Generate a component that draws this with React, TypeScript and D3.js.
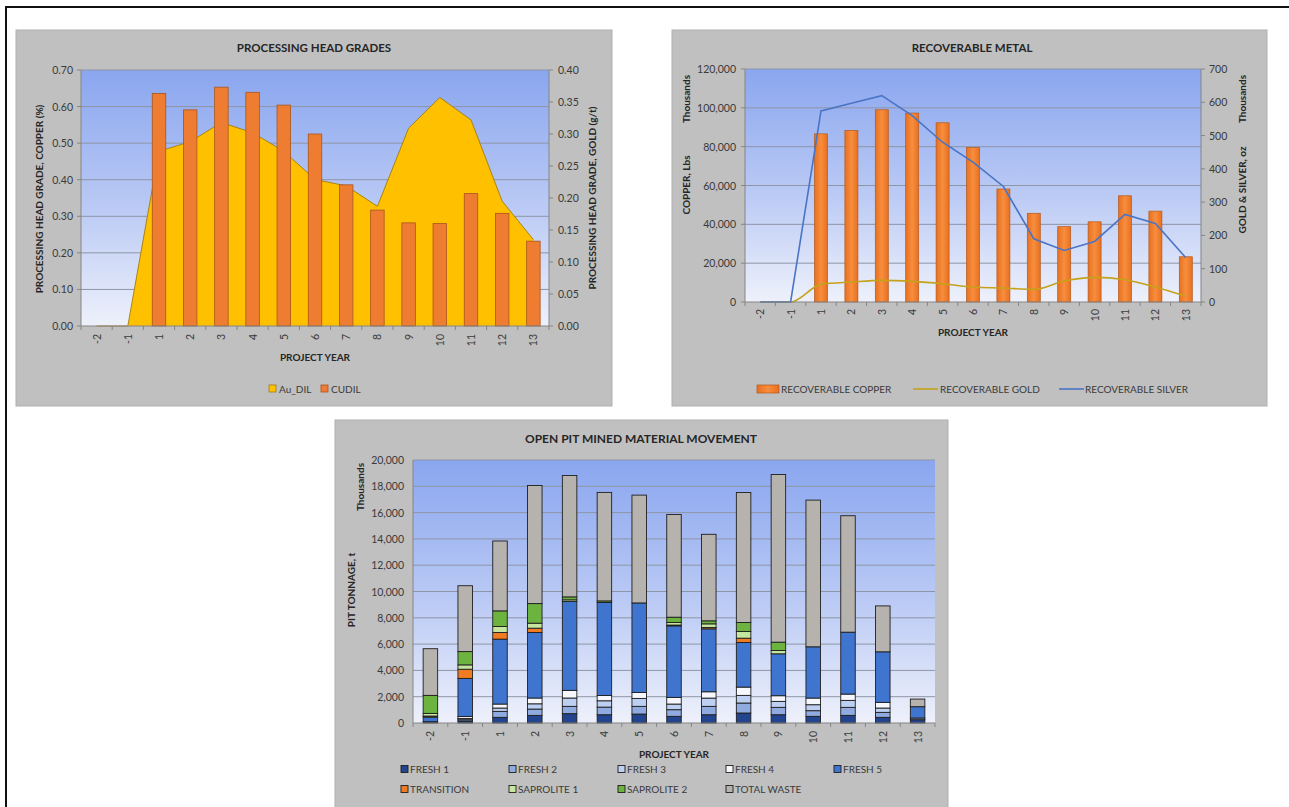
import React from 'react';
import * as d3 from 'd3';

const YEARS = ['-2', '-1', '1', '2', '3', '4', '5', '6', '7', '8', '9', '10', '11', '12', '13'];

// Panel 1: processing head grades
const CUDIL = [0, 0, 0.636, 0.591, 0.653, 0.639, 0.604, 0.525, 0.386, 0.317, 0.282, 0.28, 0.362, 0.308, 0.232];
const AU_DIL = [0, 0, 0.273, 0.288, 0.318, 0.302, 0.273, 0.229, 0.219, 0.187, 0.309, 0.357, 0.322, 0.195, 0.135];
const P1_LEFT_TICKS = [0, 0.1, 0.2, 0.3, 0.4, 0.5, 0.6, 0.7];
const P1_RIGHT_TICKS = [0, 0.05, 0.1, 0.15, 0.2, 0.25, 0.3, 0.35, 0.4];

// Panel 2: recoverable metal (thousands)
const COPPER = [0, 0, 86600, 88300, 99000, 97300, 92300, 79500, 58200, 45700, 38800, 41300, 54700, 46800, 23300];
const GOLD = [0, 0, 53, 60, 65, 62, 55, 45, 42, 38, 63, 74, 67, 45, 17];
const SILVER = [0, 0, 574, 597, 620, 560, 480, 420, 347, 190, 155, 182, 263, 236, 133];
const P2_LEFT_TICKS = [0, 20000, 40000, 60000, 80000, 100000, 120000];
const P2_RIGHT_TICKS = [0, 100, 200, 300, 400, 500, 600, 700];

// Panel 3: open pit mined material movement (thousands t)
const FRESH1 = [100, 150, 430, 580, 710, 630, 680, 506, 630, 760, 630, 506, 580, 430, 250];
const FRESH2 = [0, 100, 455, 480, 555, 580, 585, 506, 635, 760, 560, 430, 610, 380, 130];
const FRESH3 = [0, 100, 253, 400, 635, 480, 605, 430, 630, 580, 455, 455, 530, 328, 0];
const FRESH4 = [0, 150, 304, 440, 580, 405, 455, 506, 480, 630, 430, 507, 480, 431, 0];
const FRESH5 = [350, 2890, 4934, 4980, 6755, 7065, 6805, 5440, 4785, 3390, 3187, 3896, 4707, 3845, 860];
const TRANSITION = [80, 700, 506, 330, 0, 0, 0, 60, 100, 330, 0, 0, 0, 0, 0];
const SAPROLITE1 = [200, 330, 455, 380, 130, 0, 0, 200, 280, 510, 253, 0, 0, 0, 0];
const SAPROLITE2 = [1370, 1010, 1190, 1490, 225, 125, 0, 397, 230, 680, 633, 0, 0, 0, 0];
const TOTAL_WASTE = [3550, 5010, 5314, 8980, 9230, 8250, 8200, 7815, 6580, 9890, 12750, 11156, 8855, 3491, 580];
const P3_TICKS = [0, 2000, 4000, 6000, 8000, 10000, 12000, 14000, 16000, 18000, 20000];

const P3_KEYS = ['FRESH 1', 'FRESH 2', 'FRESH 3', 'FRESH 4', 'FRESH 5', 'TRANSITION', 'SAPROLITE 1', 'SAPROLITE 2', 'TOTAL WASTE'];
const P3_SERIES = [FRESH1, FRESH2, FRESH3, FRESH4, FRESH5, TRANSITION, SAPROLITE1, SAPROLITE2, TOTAL_WASTE];
const P3_COLORS = ['#23458f', '#8fabdf', '#bdd0f1', '#f5f7fc', '#3f75cf', '#ef7b22', '#c6e59e', '#6db33f', '#b6b2ad'];

const FONT = "Lato, 'Open Sans', sans-serif";
const TXT = '#3a3a3a';
const PANEL = '#c0c0c0';
const GRID = '#8e95a6';
const AXIS = '#858585';

function PlotBg({ id, x0, x1, y0, y1 }: any) {
  return <rect x={x0} y={y0} width={x1 - x0} height={y1 - y0} fill={`url(#${id})`} />;
}

function XCats({ x, y, baseline, x0, x1 }: any) {
  const bw = x.bandwidth();
  return (
    <g>
      <line x1={x0} x2={x1} y1={baseline} y2={baseline} stroke={AXIS} strokeWidth={1} />
      {YEARS.map((c, i) => (
        <line key={'t' + i} x1={x(c)} x2={x(c)} y1={baseline} y2={baseline + 4} stroke={AXIS} />
      ))}
      <line x1={x1} x2={x1} y1={baseline} y2={baseline + 4} stroke={AXIS} />
      {YEARS.map((c) => (
        <text key={c} transform={`translate(${x(c) + bw / 2},${y}) rotate(-90)`} textAnchor="end"
          dominantBaseline="central" fontSize={10.5} fill={TXT} fontFamily={FONT}>{c}</text>
      ))}
    </g>
  );
}

function Panel1() {
  const x0 = 81, x1 = 549, y0 = 70, y1 = 326;
  const x = d3.scaleBand().domain(YEARS).range([x0, x1]);
  const yL = d3.scaleLinear().domain([0, 0.7]).range([y1, y0]);
  const yR = d3.scaleLinear().domain([0, 0.4]).range([y1, y0]);
  const bw = x.bandwidth();
  const area = d3.area<number>().x((d, i) => (x(YEARS[i]) as number) + bw / 2).y0(y1).y1((d) => yR(d));
  const line = d3.line<number>().x((d, i) => (x(YEARS[i]) as number) + bw / 2).y((d) => yR(d));
  const f2 = d3.format('.2f');
  const barW = 13.5;
  return (
    <g>
      <rect x={16} y={30} width={596} height={376} fill={PANEL} stroke="#b0b0b0" />
      <text x={314} y={47} textAnchor="middle" dominantBaseline="central" fontSize={11.5} fontWeight="bold" fill="#262626" fontFamily={FONT}>PROCESSING HEAD GRADES</text>
      <PlotBg id="g1" x0={x0} x1={x1} y0={y0} y1={y1} />
      {P1_LEFT_TICKS.filter((t) => t > 0).map((t) => (
        <line key={t} x1={x0} x2={x1} y1={yL(t)} y2={yL(t)} stroke={GRID} strokeWidth={1} />
      ))}
      <path d={area(AU_DIL) as string} fill="#ffc000" />
      <path d={line(AU_DIL) as string} fill="none" stroke="#a07c10" strokeWidth={0.9} />
      {CUDIL.map((v, i) => v > 0 && (
        <rect key={i} x={(x(YEARS[i]) as number) + bw / 2 - barW / 2} y={yL(v)} width={barW} height={y1 - yL(v)}
          fill="#ee7d31" stroke="#a9541c" strokeWidth={0.8} />
      ))}
      <line x1={x0} x2={x0} y1={y0} y2={y1} stroke={AXIS} />
      <line x1={x1} x2={x1} y1={y0} y2={y1} stroke={AXIS} />
      {P1_LEFT_TICKS.map((t) => (
        <g key={t}>
          <line x1={x0 - 4} x2={x0} y1={yL(t)} y2={yL(t)} stroke={AXIS} />
          <text x={x0 - 8} y={yL(t)} textAnchor="end" dominantBaseline="central" fontSize={10.5} fill={TXT} fontFamily={FONT}>{f2(t)}</text>
        </g>
      ))}
      {P1_RIGHT_TICKS.map((t) => (
        <g key={t}>
          <line x1={x1} x2={x1 + 4} y1={yR(t)} y2={yR(t)} stroke={AXIS} />
          <text x={x1 + 9} y={yR(t)} textAnchor="start" dominantBaseline="central" fontSize={10.5} fill={TXT} fontFamily={FONT}>{f2(t)}</text>
        </g>
      ))}
      <XCats x={x} y={334} baseline={y1} x0={x0} x1={x1} />
      <text transform={`translate(39,199) rotate(-90)`} textAnchor="middle" dominantBaseline="central" fontSize={10} fontWeight="bold" fill="#262626" fontFamily={FONT}>PROCESSING HEAD GRADE, COPPER (%)</text>
      <text transform={`translate(592,198) rotate(-90)`} textAnchor="middle" dominantBaseline="central" fontSize={10} fontWeight="bold" fill="#262626" fontFamily={FONT}>PROCESSING HEAD GRADE, GOLD (g/t)</text>
      <text x={315} y={357} textAnchor="middle" dominantBaseline="central" fontSize={10} fontWeight="bold" fill="#262626" fontFamily={FONT}>PROJECT YEAR</text>
      <rect x={269} y={385} width={7} height={7} fill="#ffc000" stroke="#a07c10" strokeWidth={0.8} />
      <text x={279} y={389} dominantBaseline="central" fontSize={10} fill={TXT} fontFamily={FONT}>Au_DIL</text>
      <rect x={321} y={385} width={7} height={7} fill="#ee7d31" stroke="#a9541c" strokeWidth={0.8} />
      <text x={331} y={389} dominantBaseline="central" fontSize={10} fill={TXT} fontFamily={FONT}>CUDIL</text>
    </g>
  );
}

function Panel2() {
  const x0 = 745, x1 = 1201, y0 = 69, y1 = 302;
  const x = d3.scaleBand().domain(YEARS).range([x0, x1]);
  const yL = d3.scaleLinear().domain([0, 120000]).range([y1, y0]);
  const yR = d3.scaleLinear().domain([0, 700]).range([y1, y0]);
  const bw = x.bandwidth();
  const cx = (i: number) => (x(YEARS[i]) as number) + bw / 2;
  const silverLine = d3.line<number>().x((d, i) => cx(i)).y((d) => yR(d));
  const goldLine = d3.line<number>().x((d, i) => cx(i)).y((d) => yR(d)).curve(d3.curveMonotoneX);
  const fc = d3.format(',');
  const barW = 13;
  return (
    <g>
      <rect x={672} y={30} width={595} height={376} fill={PANEL} stroke="#b0b0b0" />
      <text x={972} y={47} textAnchor="middle" dominantBaseline="central" fontSize={11.5} fontWeight="bold" fill="#262626" fontFamily={FONT}>RECOVERABLE METAL</text>
      <PlotBg id="g2" x0={x0} x1={x1} y0={y0} y1={y1} />
      {P2_LEFT_TICKS.filter((t) => t > 0).map((t) => (
        <line key={t} x1={x0} x2={x1} y1={yL(t)} y2={yL(t)} stroke={GRID} strokeWidth={1} />
      ))}
      {COPPER.map((v, i) => v > 0 && (
        <rect key={i} x={cx(i) - barW / 2} y={yL(v)} width={barW} height={y1 - yL(v)}
          fill="url(#cuBar)" stroke="#b4591c" strokeWidth={0.7} />
      ))}
      <path d={goldLine(GOLD) as string} fill="none" stroke="#c4a21a" strokeWidth={1.6} />
      <path d={silverLine(SILVER) as string} fill="none" stroke="#4a74c6" strokeWidth={1.6} />
      <line x1={x0} x2={x0} y1={y0} y2={y1} stroke={AXIS} />
      <line x1={x1} x2={x1} y1={y0} y2={y1} stroke={AXIS} />
      {P2_LEFT_TICKS.map((t) => (
        <g key={t}>
          <line x1={x0 - 4} x2={x0} y1={yL(t)} y2={yL(t)} stroke={AXIS} />
          <text x={x0 - 9} y={yL(t)} textAnchor="end" dominantBaseline="central" fontSize={10.5} fill={TXT} fontFamily={FONT}>{fc(t)}</text>
        </g>
      ))}
      {P2_RIGHT_TICKS.map((t) => (
        <g key={t}>
          <line x1={x1} x2={x1 + 4} y1={yR(t)} y2={yR(t)} stroke={AXIS} />
          <text x={x1 + 8} y={yR(t)} textAnchor="start" dominantBaseline="central" fontSize={10.5} fill={TXT} fontFamily={FONT}>{fc(t)}</text>
        </g>
      ))}
      <XCats x={x} y={309} baseline={y1} x0={x0} x1={x1} />
      <text transform={`translate(686,99) rotate(-90)`} textAnchor="middle" dominantBaseline="central" fontSize={10} fontWeight="bold" fill="#262626" fontFamily={FONT}>Thousands</text>
      <text transform={`translate(686,185) rotate(-90)`} textAnchor="middle" dominantBaseline="central" fontSize={10} fontWeight="bold" fill="#262626" fontFamily={FONT}>COPPER, Lbs</text>
      <text transform={`translate(1242,99) rotate(-90)`} textAnchor="middle" dominantBaseline="central" fontSize={10} fontWeight="bold" fill="#262626" fontFamily={FONT}>Thousands</text>
      <text transform={`translate(1242,190) rotate(-90)`} textAnchor="middle" dominantBaseline="central" fontSize={10} fontWeight="bold" fill="#262626" fontFamily={FONT}>GOLD &amp; SILVER, oz</text>
      <text x={973} y={332} textAnchor="middle" dominantBaseline="central" fontSize={10} fontWeight="bold" fill="#262626" fontFamily={FONT}>PROJECT YEAR</text>
      <rect x={757} y={385} width={22} height={8} fill="url(#cuBar)" stroke="#b4591c" strokeWidth={0.7} />
      <text x={781} y={389} dominantBaseline="central" fontSize={10} fill={TXT} fontFamily={FONT}>RECOVERABLE COPPER</text>
      <line x1={913} x2={938} y1={389} y2={389} stroke="#c4a21a" strokeWidth={1.6} />
      <text x={940} y={389} dominantBaseline="central" fontSize={10} fill={TXT} fontFamily={FONT}>RECOVERABLE GOLD</text>
      <line x1={1059} x2={1084} y1={389} y2={389} stroke="#4a74c6" strokeWidth={1.6} />
      <text x={1085} y={389} dominantBaseline="central" fontSize={10} fill={TXT} fontFamily={FONT}>RECOVERABLE SILVER</text>
    </g>
  );
}

function Panel3() {
  const x0 = 413, x1 = 935, y0 = 460, y1 = 723;
  const x = d3.scaleBand().domain(YEARS).range([x0, x1]);
  const y = d3.scaleLinear().domain([0, 20000]).range([y1, y0]);
  const bw = x.bandwidth();
  const rows = YEARS.map((yr, i) => {
    const o: any = { year: yr };
    P3_KEYS.forEach((k, j) => { o[k] = P3_SERIES[j][i]; });
    return o;
  });
  const stacked = d3.stack().keys(P3_KEYS)(rows as any);
  const fc = d3.format(',');
  const barW = 14.5;
  const legendX = [401, 509, 618, 726, 834];
  return (
    <g>
      <rect x={335} y={420} width={613} height={400} fill={PANEL} stroke="#b0b0b0" />
      <text x={641} y={438} textAnchor="middle" dominantBaseline="central" fontSize={12} fontWeight="bold" fill="#262626" fontFamily={FONT}>OPEN PIT MINED MATERIAL MOVEMENT</text>
      <PlotBg id="g3" x0={x0} x1={x1} y0={y0} y1={y1} />
      {P3_TICKS.filter((t) => t > 0).map((t) => (
        <line key={t} x1={x0} x2={x1} y1={y(t)} y2={y(t)} stroke={GRID} strokeWidth={1} />
      ))}
      {stacked.map((s, j) => (
        <g key={P3_KEYS[j]}>
          {s.map((d, i) => d[1] - d[0] > 0 && (
            <rect key={i} x={(x(YEARS[i]) as number) + bw / 2 - barW / 2} y={y(d[1])} width={barW}
              height={y(d[0]) - y(d[1])} fill={P3_COLORS[j]} stroke="#1e1e1e" strokeWidth={0.9} />
          ))}
        </g>
      ))}
      <line x1={x0} x2={x0} y1={y0} y2={y1} stroke={AXIS} />
      {P3_TICKS.map((t) => (
        <text key={t} x={x0 - 9} y={y(t)} textAnchor="end" dominantBaseline="central" fontSize={10.5} fill={TXT} fontFamily={FONT}>{fc(t)}</text>
      ))}
      <XCats x={x} y={731} baseline={y1} x0={x0} x1={x1} />
      <text transform={`translate(360,487) rotate(-90)`} textAnchor="middle" dominantBaseline="central" fontSize={10} fontWeight="bold" fill="#262626" fontFamily={FONT}>Thousands</text>
      <text transform={`translate(351,590) rotate(-90)`} textAnchor="middle" dominantBaseline="central" fontSize={10} fontWeight="bold" fill="#262626" fontFamily={FONT}>PIT TONNAGE, t</text>
      <text x={674} y={754} textAnchor="middle" dominantBaseline="central" fontSize={10} fontWeight="bold" fill="#262626" fontFamily={FONT}>PROJECT YEAR</text>
      {P3_KEYS.map((k, j) => {
        const row = j < 5 ? 0 : 1;
        const col = j < 5 ? j : j - 5;
        const lx = legendX[col];
        const ly = row === 0 ? 769 : 789;
        return (
          <g key={k}>
            <rect x={lx} y={ly - 3.5} width={7} height={7} fill={P3_COLORS[j]} stroke="#1e1e1e" strokeWidth={0.9} />
            <text x={lx + 9} y={ly} dominantBaseline="central" fontSize={10} fill={TXT} fontFamily={FONT}>{k}</text>
          </g>
        );
      })}
    </g>
  );
}

export default function App() {
  return (
    <svg width={1289} height={807} style={{ position: 'absolute', left: 0, top: 0, background: '#ffffff' }}>
      <defs>
        {['g1', 'g2', 'g3'].map((id) => (
          <linearGradient key={id} id={id} x1="0" y1="0" x2="0" y2="1">
            <stop offset="0%" stopColor="#8aa6ef" />
            <stop offset="55%" stopColor="#bccbf5" />
            <stop offset="100%" stopColor="#eef1fb" />
          </linearGradient>
        ))}
        <linearGradient id="cuBar" x1="0" y1="0" x2="1" y2="0">
          <stop offset="0%" stopColor="#e8701f" />
          <stop offset="50%" stopColor="#f78e3e" />
          <stop offset="100%" stopColor="#e8701f" />
        </linearGradient>
      </defs>
      <rect x={0} y={0} width={1289} height={807} fill="#ffffff" />
      <line x1={6} x2={1289} y1={7} y2={7} stroke="#111" strokeWidth={2} />
      <line x1={6} x2={6} y1={6} y2={807} stroke="#111" strokeWidth={2} />
      <Panel1 />
      <Panel2 />
      <Panel3 />
    </svg>
  );
}
